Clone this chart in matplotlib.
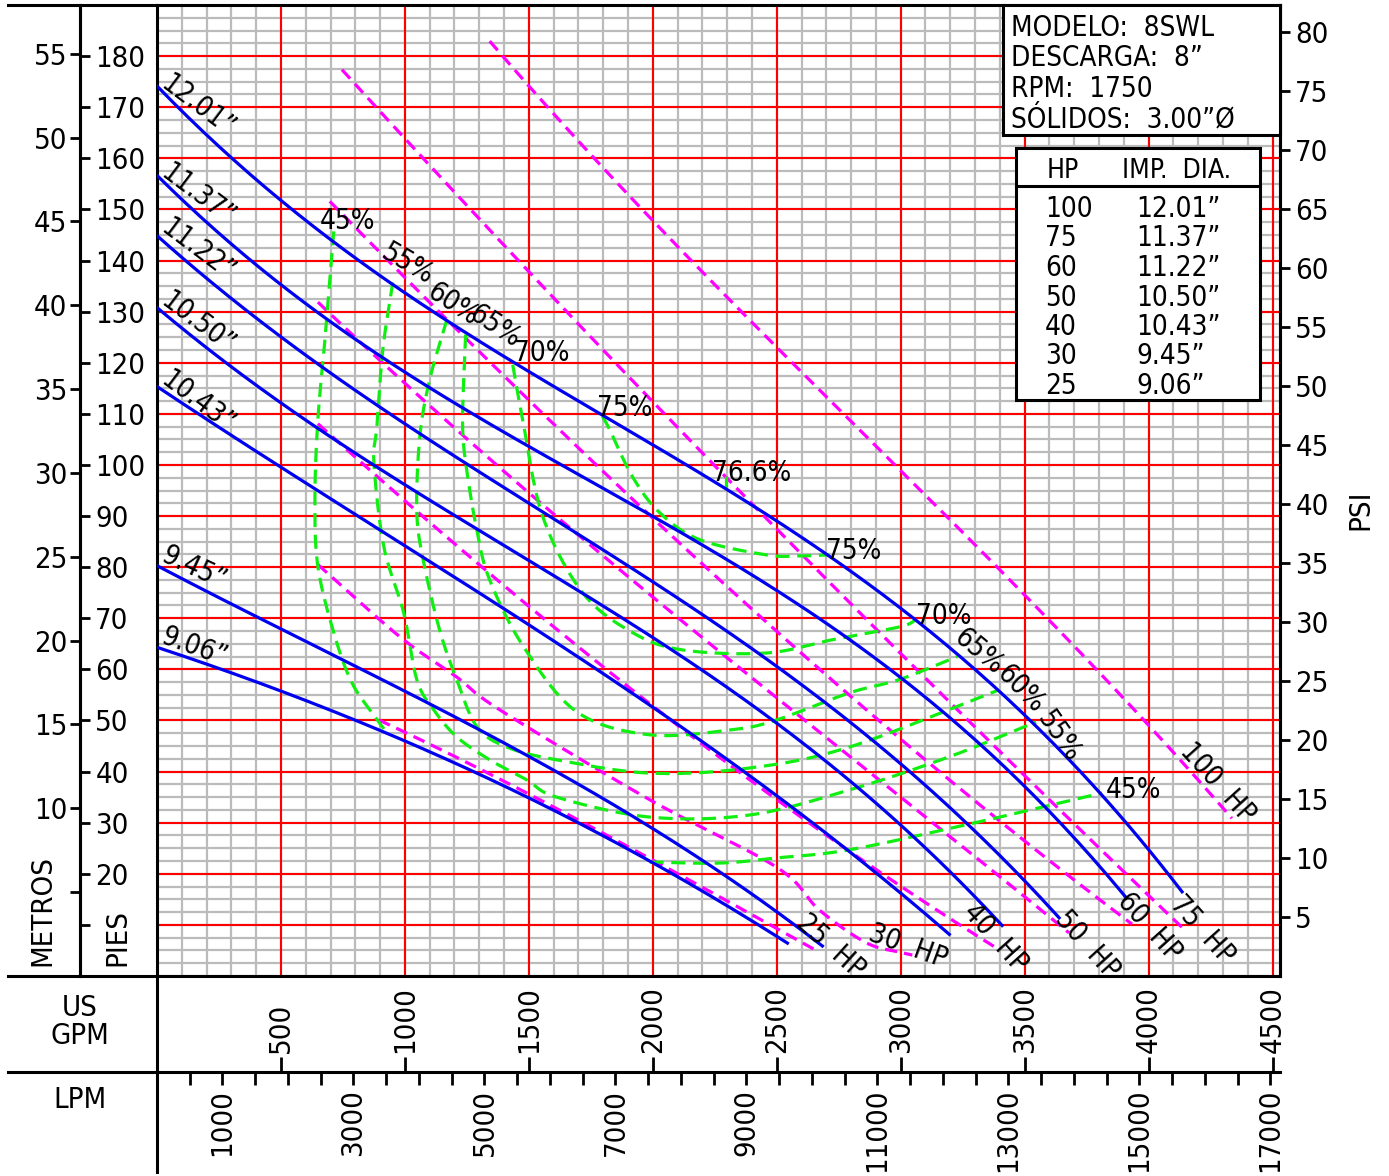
import numpy as np
import matplotlib
matplotlib.use('Agg')
import matplotlib.pyplot as plt
from matplotlib.lines import Line2D
from matplotlib.patches import Rectangle

plt.rcParams['font.family'] = ['DejaVu Sans']
plt.rcParams['font.stretch'] = 'condensed'

W, H = 1389, 1176

# impeller curves, flow in US GPM, head in feet
d1201_q = [0, 713, 951, 1435, 1797, 2297, 2499, 2724, 2994, 3397, 3679, 3812, 3990, 4135]
d1201_h = [173.7, 144.5, 135.7, 119.6, 109.5, 95.2, 89.3, 81.5, 71.1, 56.0, 43.7, 35.8, 26.0, 14.9]
d1137_q = [0, 322, 496, 1100, 1612, 1999, 2499, 2994, 3357, 3599, 3909]
d1137_h = [155.7, 143.1, 136.3, 114.7, 100.4, 89.9, 74.6, 58.5, 44.8, 33.1, 14.3]
d1122_q = [0, 496, 725, 1008, 1612, 1999, 2499, 2793, 2994, 3196, 3639]
d1122_h = [144.9, 125.5, 116.7, 107.5, 89.9, 77.0, 60.1, 50.1, 41.7, 33.1, 11.4]
d1050_q = [0, 391, 1382, 1999, 2499, 2793, 2994, 3409]
d1050_h = [130.4, 116.7, 84.0, 66.4, 50.1, 38.4, 29.2, 10.0]
d1043_q = [0, 887, 1382, 1797, 2055, 2499, 2793, 2994, 3196]
d1043_h = [115.1, 88.7, 72.3, 58.0, 50.1, 36.6, 24.7, 16.8, 7.4]
d945_q = [0, 746, 1382, 1987, 2499, 2684]
d945_h = [80.3, 61.9, 46.2, 29.0, 12.9, 5.7]
d906_q = [0, 496, 927, 1382, 1987, 2543]
d906_h = [64.4, 55.6, 47.6, 37.8, 22.3, 6.5]

# horsepower lines
hp100_q = [1342, 1491, 1761, 1987, 2672, 3349, 3587, 3990, 4336]
hp100_h = [182.7, 174.9, 160.2, 148.4, 114.8, 81.5, 70.3, 50.1, 30.6]
hp75_q = [746, 1153, 1491, 1906, 2458, 2994, 3627, 4143]
hp75_h = [177.4, 155.9, 138.2, 116.7, 89.9, 63.8, 32.5, 9.4]
hp60_q = [697, 991, 1249, 1556, 1999, 2994, 3357, 3933]
hp60_h = [151.4, 136.9, 125.9, 108.9, 89.9, 46.2, 32.5, 10.0]
hp50_q = [649, 995, 1382, 1995, 2499, 2994, 3397, 3679]
hp50_h = [131.4, 116.7, 100.1, 73.6, 54.0, 35.4, 20.8, 7.6]
hp40_q = [649, 806, 1048, 1342, 1612, 1995, 2499, 2994, 3385]
hp40_h = [107.9, 101.6, 90.7, 78.9, 67.7, 53.1, 34.5, 17.8, 5.5]
hp30_q = [649, 979, 1209, 1382, 1987, 2499, 2672, 2861, 2994, 3047]
hp30_h = [80.5, 66.4, 58.5, 52.1, 34.5, 21.3, 12.9, 6.5, 4.7, 4.1]
hp25_q = [895, 1382, 1612, 1987, 2499, 2672]
hp25_h = [50.1, 38.4, 33.1, 22.7, 9.6, 4.5]

# efficiency contours
e45a_q = [713, 681, 649, 637, 649, 713, 786, 883, 927]
e45a_h = [145.7, 126.5, 108.9, 93.2, 80.1, 67.2, 57.4, 50.5, 47.6]
e45b_q = [1987, 2269, 2499, 2793, 3264, 3812]
e45b_h = [22.3, 22.1, 23.1, 24.7, 29.6, 35.8]
e55_q = [951, 911, 887, 875, 915, 995, 1048, 1116, 1209, 1342, 1491, 1612, 1987, 2390, 2793, 3196, 3546]
e55_h = [135.7, 122.6, 107.5, 100.4, 84.0, 71.1, 58.0, 52.1, 46.8, 42.3, 38.4, 35.0, 31.1, 31.5, 36.4, 42.9, 49.7]
e60_q = [1169, 1100, 1060, 1048, 1076, 1140, 1209, 1290, 1411, 1612, 1987, 2390, 2793, 3397]
e60_h = [128.4, 116.7, 105.5, 90.7, 80.9, 67.7, 58.0, 48.8, 44.8, 42.3, 39.7, 40.7, 44.8, 56.0]
e65_q = [1245, 1237, 1233, 1249, 1290, 1342, 1479, 1693, 1987, 2321, 2499, 2793, 2994, 3228]
e65_h = [125.5, 116.7, 106.9, 99.1, 87.3, 77.5, 64.4, 51.7, 47.2, 48.2, 50.1, 55.4, 58.0, 62.5]
e70_q = [1435, 1475, 1556, 1717, 1918, 2120, 2458, 2724, 2994, 3063]
e70_h = [119.6, 108.9, 89.9, 75.0, 67.2, 63.8, 63.2, 65.8, 68.3, 69.7]
e75_q = [1797, 1826, 1918, 2027, 2188, 2458, 2591, 2712]
e75_h = [109.5, 106.9, 97.7, 90.7, 85.4, 82.4, 82.2, 82.4]
e766_q = [2297, 2297]
e766_h = [95.2, 97.9]

hp_list = ['100', '75', '60', '50', '40', '30', '25']
dia_list = ['12.01”', '11.37”', '11.22”', '10.50”', '10.43”', '9.45”', '9.06”']

gpm_ticks = list(range(500, 4501, 500))
lpm_ticks = list(range(500, 17001, 500))
lpm_labels = list(range(1000, 17001, 2000))
psi_ticks = list(range(5, 81, 5))
m_ticks = list(range(5, 56, 5))
ft_ticks = list(range(10, 181, 10))


def smooth(q, h, n=16):
    # Catmull-Rom through the read points
    p = np.column_stack([q, h]).astype(float)
    if len(p) < 3:
        return p[:, 0], p[:, 1]
    p = np.vstack([2 * p[0] - p[1], p, 2 * p[-1] - p[-2]])
    t = np.linspace(0, 1, n, endpoint=False)[:, None]
    segs = []
    for i in range(1, len(p) - 2):
        p0, p1, p2, p3 = p[i - 1], p[i], p[i + 1], p[i + 2]
        segs.append(0.5 * (2 * p1 + (p2 - p0) * t + (2 * p0 - 5 * p1 + 4 * p2 - p3) * t ** 2
                           + (3 * p1 - p0 - 3 * p2 + p3) * t ** 3))
    segs.append(p[-2][None])
    s = np.vstack(segs)
    return s[:, 0], s[:, 1]


def fit(q, h, deg=3):
    c = np.polyfit(q, h, deg)
    qq = np.linspace(q[0], q[-1], 200)
    return qq, np.polyval(c, qq)


def fx(px):
    return px / W


def fy(py):
    return 1 - py / H


FS = 21

fig = plt.figure(figsize=(W / 100, H / 100), dpi=100)
ax = fig.add_axes([fx(157), fy(976), fx(1280) - fx(157), fy(5) - fy(976)])
ax.set_xlim(0, 4530)
ax.set_ylim(0, 190)
ax.set_xticks([])
ax.set_yticks([])
ax.set_xticks(np.arange(0, 4531, 100), minor=True)
ax.set_yticks(np.arange(0, 191, 2.5), minor=True)
ax.grid(which='minor', color='#bbbbbb', lw=1.6)
ax.tick_params(which='both', length=0, labelbottom=False, labelleft=False)
ax.set_axisbelow(True)
for g in gpm_ticks:
    ax.axvline(g, color='red', lw=1.5, zorder=0.8)
for f in range(10, 190, 10):
    ax.axhline(f, color='red', lw=1.5, zorder=0.8)
for s in ax.spines.values():
    s.set_linewidth(2.2)

# curves
for q, h in [(d1201_q, d1201_h), (d1137_q, d1137_h), (d1122_q, d1122_h), (d1050_q, d1050_h),
             (d1043_q, d1043_h), (d945_q, d945_h), (d906_q, d906_h)]:
    ax.plot(*fit(q, h), color='#0000f0', lw=2.3, zorder=4)

for q, h in [(hp100_q, hp100_h), (hp75_q, hp75_h), (hp60_q, hp60_h), (hp50_q, hp50_h),
             (hp40_q, hp40_h), (hp25_q, hp25_h)]:
    ax.plot(*fit(q, h), color='#ff00ff', lw=2.3, dashes=(3.8, 2.2), zorder=3)
ax.plot(*smooth(hp30_q, hp30_h), color='#ff00ff', lw=2.3, dashes=(3.8, 2.2), zorder=3)

for q, h in [(e45a_q, e45a_h), (e45b_q, e45b_h), (e55_q, e55_h), (e60_q, e60_h),
             (e65_q, e65_h), (e70_q, e70_h), (e75_q, e75_h), (e766_q, e766_h)]:
    ax.plot(*smooth(q, h), color='#11ee11', lw=2.3, dashes=(4.4, 2.4), zorder=3.5)

# labels on the curves
lab = dict(fontsize=20, rotation_mode='anchor', ha='left', va='baseline', zorder=6, clip_on=True)
dia_pos = [(8, 174.0, -37), (8, 156.5, -37), (8, 145.8, -37), (8, 131.4, -37),
           (8, 116.0, -37), (8, 81.3, -25), (8, 65.2, -20)]
for txt, (q, h, r) in zip(dia_list, dia_pos):
    ax.text(q, h, txt, rotation=r, **lab)

eff_lab = [('45%', 657, 146.1, 0), ('55%', 895, 140.6, -30), ('60%', 1084, 133.0, -33),
           ('65%', 1253, 128.8, -33), ('70%', 1439, 120.4, 0), ('75%', 1773, 109.6, 0),
           ('76.6%', 2237, 96.9, 0), ('75%', 2700, 81.5, 0), ('70%', 3063, 68.9, 0),
           ('65%', 3208, 65.8, -40), ('60%', 3381, 58.9, -45), ('55%', 3546, 50.5, -55),
           ('45%', 3829, 34.9, 0)]
for txt, q, h, r in eff_lab:
    ax.text(q, h, txt, rotation=r, **lab)

hp_pos = [(4122, 43.9, -48), (4082, 13.9, -48), (3869, 14.5, -48), (3619, 11.0, -48),
          (3248, 12.3, -48), (2865, 7.0, -20), (2575, 10.0, -42)]
for hp, (q, h, r) in zip(hp_list, hp_pos):
    ax.text(q, h, hp + '  HP', rotation=r, **lab)

# PSI axis
axp = ax.twinx()
axp.set_ylim(0, 190 / 2.31)
axp.set_yticks(psi_ticks)
axp.tick_params(axis='y', direction='out', length=7, width=2, labelsize=FS, pad=4)
for k in ['left', 'top', 'bottom']:
    axp.spines[k].set_visible(False)
axp.spines['right'].set_linewidth(2.2)

# metres axis (left of the black line at x=80)
axm = ax.twinx()
axm.set_ylim(0, 190 / 3.28084)
axm.spines['left'].set_position(('axes', -77 / 1123))
axm.spines['left'].set_visible(True)
axm.spines['left'].set_linewidth(2.2)
for k in ['right', 'top', 'bottom']:
    axm.spines[k].set_visible(False)
axm.yaxis.set_ticks_position('left')
axm.set_yticks(m_ticks)
axm.set_yticklabels(['' if m == 5 else str(m) for m in m_ticks])
axm.tick_params(axis='y', direction='out', length=7, width=2, labelsize=FS, pad=2)

# feet axis (right of the same line)
axf = ax.twinx()
axf.set_ylim(0, 190)
axf.spines['right'].set_position(('axes', -77 / 1123))
axf.spines['right'].set_linewidth(2.2)
for k in ['left', 'top', 'bottom']:
    axf.spines[k].set_visible(False)
axf.set_yticks(ft_ticks)
axf.set_yticklabels(['' if f == 10 else str(f) for f in ft_ticks])
axf.tick_params(axis='y', direction='out', length=7, width=2, labelsize=FS, pad=4)

# bottom scales: LPM below the line, GPM above it
axb = fig.add_axes([fx(157), fy(1072), fx(1280) - fx(157), 0.0005])
axb.patch.set_visible(False)
axb.set_xlim(0, 4530 * 3.78541)
axb.set_yticks([])
for k in ['left', 'right', 'top']:
    axb.spines[k].set_visible(False)
axb.spines['bottom'].set_linewidth(2.2)
axb.set_xticks(lpm_ticks)
axb.set_xticklabels([str(v) if v in lpm_labels else '' for v in lpm_ticks], rotation=90)
axb.tick_params(axis='x', direction='out', length=9, width=2, labelsize=FS, pad=3)

axg = axb.twiny()
axg.set_xlim(0, 4530)
for s in axg.spines.values():
    s.set_visible(False)
axg.set_xticks(gpm_ticks)
axg.set_xticklabels([str(v) for v in gpm_ticks], rotation=90)
axg.tick_params(axis='x', direction='out', length=10, width=2, labelsize=FS, pad=3)

# frame lines outside the plot
for xs, ys in [((8, 157), (5, 5)), ((8, 157), (976, 976)), ((8, 157), (1072, 1072)),
               ((157, 157), (976, 1172))]:
    fig.add_artist(Line2D([fx(xs[0]), fx(xs[1])], [fy(ys[0]), fy(ys[1])],
                          transform=fig.transFigure, color='black', lw=2.2))

fig.text(fx(80), fy(1022), 'US\nGPM', ha='center', va='center', fontsize=FS, linespacing=1.0)
fig.text(fx(80), fy(1100), 'LPM', ha='center', va='center', fontsize=FS)
fig.text(fx(42), fy(966), 'METROS', rotation=90, ha='center', va='bottom', fontsize=FS)
fig.text(fx(117), fy(966), 'PIES', rotation=90, ha='center', va='bottom', fontsize=FS)
fig.text(fx(1360), fy(510), 'PSI', rotation=90, ha='center', va='center', fontsize=FS)

# info boxes
fig.add_artist(Rectangle((fx(1003), fy(135)), fx(1280) - fx(1003), fy(5) - fy(135),
                         transform=fig.transFigure, facecolor='white', edgecolor='black', lw=2.2))
info = ['MODELO:  8SWL', 'DESCARGA:  8”', 'RPM:  1750', 'SÓLIDOS:  3.00”Ø']
for i, t in enumerate(info):
    fig.text(fx(1011), fy(36 + 30.5 * i), t, fontsize=20, va='baseline')

fig.add_artist(Rectangle((fx(1016), fy(400)), fx(1260) - fx(1016), fy(148) - fy(400),
                         transform=fig.transFigure, facecolor='white', edgecolor='black', lw=2.2))
fig.add_artist(Line2D([fx(1016), fx(1260)], [fy(186), fy(186)], transform=fig.transFigure,
                      color='black', lw=2.2))
fig.text(fx(1047), fy(178), 'HP', fontsize=19, va='baseline')
fig.text(fx(1122), fy(178), 'IMP.  DIA.', fontsize=19, va='baseline')
for i, (hp, d) in enumerate(zip(hp_list, dia_list)):
    yb = 217 + 29.5 * i
    fig.text(fx(1045), fy(yb), hp, fontsize=20, va='baseline')
    fig.text(fx(1136), fy(yb), d, fontsize=20, va='baseline')

fig.savefig('out.png', dpi=100)
